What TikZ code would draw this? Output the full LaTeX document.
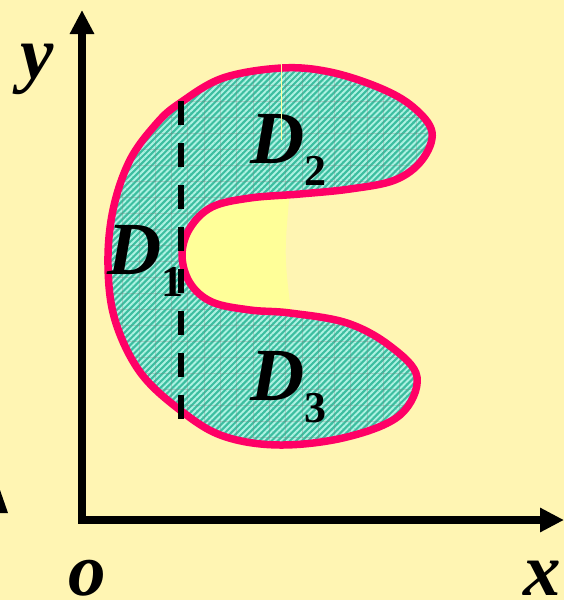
\documentclass[tikz,border=0pt]{standalone}
\usepackage{fontspec}
\setmainfont{Liberation Serif}
\usetikzlibrary{arrows.meta,patterns.meta}
\definecolor{paper}{HTML}{FFF5B3}
\definecolor{lemon}{HTML}{FFFF99}
\definecolor{rim}{HTML}{FF0066}
\definecolor{lagoon}{HTML}{3CBEA0}
\definecolor{foam}{HTML}{AEF2E2}
\newcommand{\regname}[1]{\textit{D}\raisebox{-22pt}{\fontsize{44}{44}\selectfont\upshape #1}}
\newcommand{\outlineC}{plot[smooth cycle, tension=0.6] coordinates {
  (282,68) (330,72) (380,88) (413,107) (432,132) (422,160) (395,180)
  (350,189) (300,194) (250,198) (212,207) (190,228) (182,255) (190,283)
  (212,302) (250,310) (290,313) (347,323) (390,346) (417,377) (400,415)
  (347,437) (280,445) (223,436) (180,410) (140,372) (115,320) (108,265)
  (113,210) (130,160) (157,123) (180,103) (223,78)}}

\begin{document}
\begin{tikzpicture}[x=1pt, y=-1pt,
    lbl/.style={inner sep=0pt, anchor=base west,
                font=\fontsize{75}{75}\selectfont\bfseries\itshape},
    axisline/.style={line width=7.8pt, line join=miter,
                {Triangle[length=24pt,width=23pt]}-{Triangle[length=24pt,width=23pt]}},
    cutline/.style={line width=5.5pt, dash pattern=on 24pt off 18pt},
    rimline/.style={draw=rim, line width=7.5pt},
    hatch/.style={preaction={fill=lagoon},
                pattern={Lines[angle=45,distance=4.3pt,line width=1.9pt]},
                pattern color=foam},
    gridline/.style={gray, opacity=0.3, line width=0.8pt}
  ]
  \useasboundingbox (0,0) rectangle (564,600);
  \fill[paper] (0,0) rectangle (564,600);
  \fill (0,490) -- (8,513) -- (0,513) -- cycle;

  % hole of the region
  \fill[lemon] (170,190) -- (290,190) .. controls (284,255) .. (292,320) -- (170,320) -- cycle;

  % the region D
  \path[hatch] \outlineC;
  \begin{scope}
    \clip \outlineC;
    \foreach \k in {0,...,22}
      \draw[gridline] (90+16.3*\k,60) -- (90+16.3*\k,450);
    \foreach \k in {0,...,24}
      \draw[gridline] (100,69+16*\k) -- (440,69+16*\k);
  \end{scope}
  \path[rimline] \outlineC;

  % axes
  \coordinate (o) at (82,520);
  \coordinate (ytip) at (82,10);
  \coordinate (xtip) at (564,520);
  \draw[axisline] (ytip) -- (o) -- (xtip);

  % cut
  \coordinate (cuttop) at (181,101);
  \coordinate (cutbot) at (181,419);
  \draw[cutline] (cuttop) -- (cutbot);

  \node[lbl] (ylab) at (20,78) {y};
  \node[lbl] (olab) at (68,595) {o};
  \node[lbl] (xlab) at (523,595) {x};
  \node[lbl] (d1) at (107,274) {\regname{1}};
  \node[lbl] (d2) at (250,163) {\regname{2}};
  \node[lbl] (d3) at (250,400) {\regname{3}};

  \coordinate (seamtop) at (281,64);
  \coordinate (seambot) at (281,140);
  \draw[lemon, line width=1pt] (seamtop) -- (seambot);
\end{tikzpicture}
\end{document}
